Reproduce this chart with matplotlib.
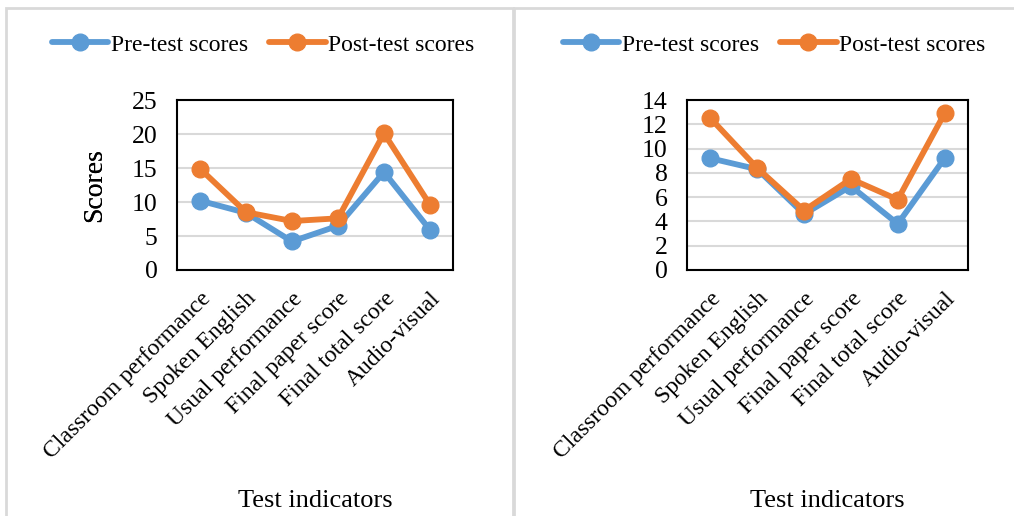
#Pre-test vs post-test scores, two panels

#Importing libraries
import numpy as np
import matplotlib
matplotlib.use("Agg")
import matplotlib.pyplot as plt
import matplotlib.transforms as mtransforms
from matplotlib.patches import Rectangle

#Data
categories = ['Classroom performance', 'Spoken English', 'Usual performance',
              'Final paper score', 'Final total score', 'Audio-visual']
left_pre = [10.2, 8.4, 4.2, 6.5, 14.4, 5.9]
left_post = [14.9, 8.5, 7.2, 7.6, 20.1, 9.6]
right_pre = [9.2, 8.3, 4.6, 6.9, 3.8, 9.2]
right_post = [12.5, 8.4, 4.9, 7.5, 5.8, 12.9]
left_ticks = [0, 5, 10, 15, 20, 25]
right_ticks = [0, 2, 4, 6, 8, 10, 12, 14]

plt.rcParams['font.family'] = ['Liberation Serif', 'DejaVu Serif']
blue = '#5B9BD5'
orange = '#ED7D31'
W, H = 1014, 516

fig = plt.figure(figsize=(W / 100, H / 100), dpi=100)

#Panel borders
for x0, x1 in [(6, 513), (514, 1020)]:
    fig.patches.append(Rectangle((x0 / W, -0.1), (x1 - x0) / W, 1.1 - 8 / H,
                                 transform=fig.transFigure, fill=False,
                                 edgecolor='#D9D9D9', lw=2, zorder=0))

shift = mtransforms.ScaledTranslation(-5 / 100, 0, fig.dpi_scale_trans)

def panel(left, right, pre, post, ticks, leg_x):
    ax = fig.add_axes([left / W, 1 - 270 / H, (right - left) / W, 170 / H])
    x = np.arange(len(categories))
    ax.plot(x, pre, color=blue, lw=4.2, marker='o', markersize=12, label='Pre-test scores',
            solid_capstyle='round')
    ax.plot(x, post, color=orange, lw=4.2, marker='o', markersize=12, label='Post-test scores',
            solid_capstyle='round')
    ax.set_xlim(-0.5, len(categories) - 0.5)
    ax.set_ylim(ticks[0], ticks[-1])
    ax.set_yticks(ticks)
    ax.yaxis.grid(True, color='#D9D9D9', lw=1.5)
    ax.set_axisbelow(True)
    ax.set_xticks(x)
    ax.set_xticklabels(categories, rotation=45, ha='right', rotation_mode='anchor', fontsize=17)
    for lab in ax.get_xticklabels():
        lab.set_transform(lab.get_transform() + shift)
    ax.tick_params(axis='x', length=0, pad=13)
    ax.tick_params(axis='y', length=0, pad=14, labelsize=18.5)
    for s in ax.spines.values():
        s.set_linewidth(1.5)
        s.set_color('black')
    ax.set_ylabel('Scores', fontsize=20)
    ax.set_xlabel('Test indicators', fontsize=19)
    ax.xaxis.set_label_coords(0.5, -(490 - 270) / 170)
    ax.yaxis.set_label_coords(-(left - 107) / (right - left), 0.5)
    ax.legend(loc='center', bbox_to_anchor=(leg_x / W, 1 - 45 / H),
              bbox_transform=fig.transFigure, ncol=2, frameon=False, fontsize=17,
              handlelength=2.4, handletextpad=0.1, columnspacing=0.9)
    return ax

panel(177, 453, left_pre, left_post, left_ticks, 263)
panel(687, 968, right_pre, right_post, right_ticks, 774)

plt.savefig('out.png', dpi=100)
